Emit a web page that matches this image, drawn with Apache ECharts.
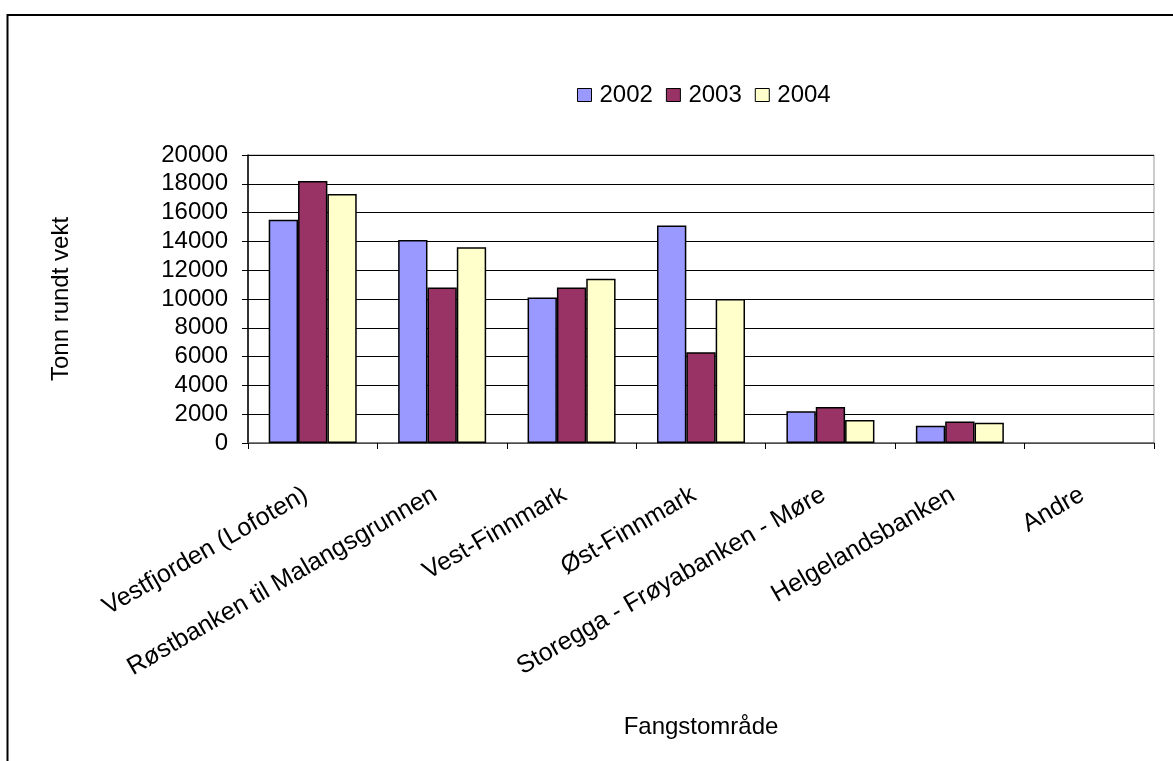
<!DOCTYPE html>
<html>
<head>
<meta charset="utf-8">
<script src="https://cdn.jsdelivr.net/npm/echarts@6/dist/echarts.min.js"></script>
<style>
    html, body { margin: 0; padding: 0; background: #fff; }
    #container { width: 1173px; height: 761px; }
</style>
</head>
<body>
<div id="container"></div>
<script>
var categories = ['Vestfjorden (Lofoten)', 'Røstbanken til Malangsgrunnen', 'Vest-Finnmark',
    'Øst-Finnmark', 'Storegga - Frøyabanken - Møre', 'Helgelandsbanken', 'Andre'];
var years = ['2002', '2003', '2004'];
var data2002 = [15500, 14100, 10100, 15100, 2200, 1200, 0];
var data2003 = [18200, 10800, 10800, 6300, 2500, 1500, 0];
var data2004 = [17300, 13600, 11400, 10000, 1600, 1400, 0];
var yTicks = [0, 2000, 4000, 6000, 8000, 10000, 12000, 14000, 16000, 18000, 20000];

var font = '"Liberation Sans", Arial, sans-serif';
var colors = ['#9999FF', '#993366', '#FFFFCC'];

var dom = document.getElementById('container');
var myChart = echarts.init(dom);

function barSeries(name, values, color) {
    return {
        name: name,
        type: 'bar',
        barGap: '0%',
        barCategoryGap: '32%',
        itemStyle: {
            color: color,
            borderColor: '#000',
            borderWidth: 1.5
        },
        // zero bars get no outline, like the original
        data: values.map(function (v) {
            return v === 0 ? {value: 0, itemStyle: {borderWidth: 0}} : v;
        })
    };
}

var option = {
    animation: false,
    backgroundColor: '#fff',
    graphic: [
        {
            type: 'rect',
            shape: {x: 7.5, y: 15, width: 1300, height: 900},
            style: {fill: 'none', stroke: '#000', lineWidth: 2}
        }
    ],
    legend: {
        left: 572,
        top: 78,
        itemWidth: 14,
        itemHeight: 13,
        itemGap: 13,
        data: years.map(function (y) {
            return {name: y, icon: 'rect', itemStyle: {borderColor: '#000', borderWidth: 1}};
        }),
        textStyle: {
            fontFamily: font,
            fontSize: 24,
            color: '#000',
            padding: [0, 0, 0, 3]
        }
    },
    grid: {
        left: 248,
        top: 155,
        right: 19,
        bottom: 318,
        show: true,
        borderColor: '#999',
        borderWidth: 1
    },
    xAxis: {
        type: 'category',
        data: categories,
        name: 'Fangstområde',
        nameLocation: 'middle',
        nameGap: 272,
        nameTextStyle: {fontFamily: font, fontSize: 24, color: '#000'},
        axisLine: {lineStyle: {color: '#666', width: 1.5}},
        axisTick: {show: true, length: 6, lineStyle: {color: '#000'}},
        axisLabel: {
            interval: 0,
            rotate: 30,
            margin: 46,
            padding: [0, 8, 0, 0],
            fontFamily: font,
            fontSize: 25,
            color: '#000'
        }
    },
    yAxis: {
        type: 'value',
        min: 0,
        max: yTicks[yTicks.length - 1],
        interval: yTicks[1] - yTicks[0],
        name: 'Tonn rundt vekt',
        nameLocation: 'middle',
        nameGap: 175,
        nameTextStyle: {fontFamily: font, fontSize: 24, color: '#000'},
        axisLine: {show: true, lineStyle: {color: '#000', width: 1.5}},
        axisTick: {show: true, length: 6, lineStyle: {color: '#000'}},
        splitLine: {show: true, lineStyle: {color: '#000', width: 1}},
        axisLabel: {
            margin: 20,
            fontFamily: font,
            fontSize: 24,
            color: '#000',
            formatter: function (v) { return String(v); }
        }
    },
    series: [
        barSeries(years[0], data2002, colors[0]),
        barSeries(years[1], data2003, colors[1]),
        barSeries(years[2], data2004, colors[2])
    ]
};

if (option && typeof option === 'object') {
    myChart.setOption(option, true);
}
</script>
</body>
</html>
